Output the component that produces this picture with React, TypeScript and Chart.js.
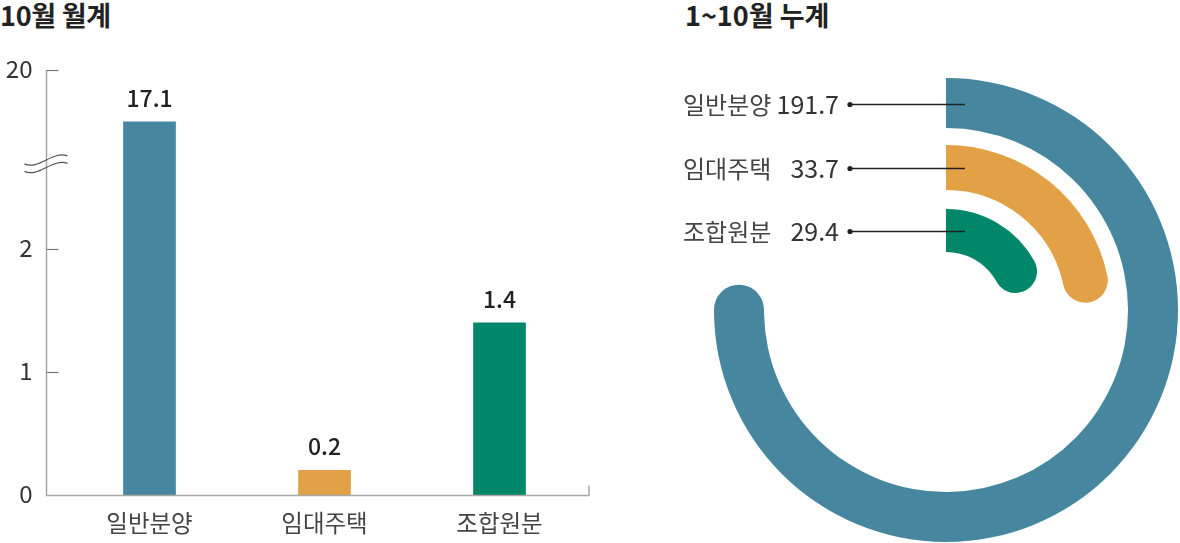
import React, { useEffect, useRef } from "react";
import { Chart, registerables } from "chart.js";

Chart.register(...registerables);

// ---------- data ----------
const leftTitle = "10월 월계";
const rightTitle = "1~10월 누계";
const monthlyCategories = ["일반분양", "임대주택", "조합원분"];
const monthlyValues = [17.1, 0.2, 1.4];
const yTickValues = [0, 1, 2, 20];
const cumulativeCategories = ["일반분양", "임대주택", "조합원분"];
const cumulativeValues = [191.7, 33.7, 29.4];
const seriesColors = ["#46879f", "#e3a147", "#008769"];

// ---------- broken axis mapping ----------
const BREAK_AT = 2;
const AXIS_TOP_VALUE = 20;
const AXIS_TOP_POS = 3.455;
const UPPER_SLOPE = 0.1455;
const BREAK_MARK_POS = 2.72;
const toAxis = (v: number) =>
  v <= BREAK_AT ? v : AXIS_TOP_POS - (AXIS_TOP_VALUE - v) * UPPER_SLOPE;

const FONT = '"Noto Sans CJK KR", "Noto Sans", sans-serif';

// ring styling (outer to inner)
const ringWeights = [50, 17, 45, 19, 43];
const arcSweepDeg = [277, 87, 76.5];

const leftPlugin = {
  id: "leftDecor",
  afterDraw(chart: any) {
    const { ctx, chartArea } = chart;
    const x = chart.scales.x;
    const y = chart.scales.y;
    const axisX = chartArea.left - 15.5;
    const zeroY = Math.round(y.getPixelForValue(0)) + 0.5;
    const topY = y.getPixelForValue(AXIS_TOP_POS);
    ctx.save();
    ctx.strokeStyle = "#a8a8a8";
    ctx.lineWidth = 1.5;
    ctx.beginPath();
    ctx.moveTo(axisX, topY);
    ctx.lineTo(axisX, zeroY);
    ctx.lineTo(chartArea.right + 2, zeroY);
    ctx.lineTo(chartArea.right + 2, zeroY - 10);
    ctx.stroke();
    ctx.lineWidth = 1.2;
    ctx.strokeStyle = "#777";
    yTickValues.forEach((v) => {
      if (v === 0) return;
      const py = Math.round(y.getPixelForValue(toAxis(v))) + 0.5;
      ctx.beginPath();
      ctx.moveTo(axisX, py);
      ctx.lineTo(axisX + 12, py);
      ctx.stroke();
    });
    // tick labels
    ctx.fillStyle = "#333";
    ctx.font = `24px ${FONT}`;
    ctx.textAlign = "right";
    ctx.textBaseline = "middle";
    yTickValues.forEach((v) => {
      const py = y.getPixelForValue(toAxis(v));
      ctx.fillText(String(v), axisX - 14, py - 1);
    });
    // break mark
    const cy = y.getPixelForValue(BREAK_MARK_POS);
    ctx.strokeStyle = "#555";
    ctx.lineWidth = 1.2;
    [0, 7.5].forEach((dy) => {
      ctx.beginPath();
      ctx.moveTo(axisX - 22, cy + 3.5 + dy);
      ctx.bezierCurveTo(axisX - 8, cy + 10 + dy, axisX + 6, cy - 10 + dy, axisX + 21, cy - 4.5 + dy);
      ctx.stroke();
    });
    // category labels
    ctx.fillStyle = "#444";
    ctx.textAlign = "center";
    ctx.font = `23.5px ${FONT}`;
    monthlyCategories.forEach((c, i) => {
      ctx.fillText(c, x.getPixelForValue(i), zeroY + 28);
    });
    // value labels
    ctx.fillStyle = "#222";
    ctx.font = `500 23px ${FONT}`;
    const meta = chart.getDatasetMeta(0);
    meta.data.forEach((bar: any, i: number) => {
      ctx.fillText(monthlyValues[i].toFixed(1), bar.x, bar.y - 24);
    });
    ctx.restore();
  },
};

const rightPlugin = {
  id: "rightDecor",
  afterDraw(chart: any) {
    const { ctx } = chart;
    ctx.save();
    cumulativeValues.forEach((v, i) => {
      const meta = chart.getDatasetMeta(i * 2);
      const arc: any = meta.data[0];
      const midR = (arc.innerRadius + arc.outerRadius) / 2;
      const ly = Math.round(arc.y - midR + (i === 0 ? 1 : 0)) + 0.5;
      const dotX = arc.x - 96;
      ctx.strokeStyle = "#222";
      ctx.lineWidth = 1.3;
      ctx.beginPath();
      ctx.moveTo(dotX, ly);
      ctx.lineTo(arc.x + 19, ly);
      ctx.stroke();
      ctx.fillStyle = "#222";
      ctx.beginPath();
      ctx.arc(dotX, ly, 2.6, 0, Math.PI * 2);
      ctx.fill();
      ctx.textBaseline = "middle";
      ctx.font = `25px ${FONT}`;
      ctx.fillStyle = "#333";
      ctx.textAlign = "right";
      ctx.fillText(v.toFixed(1), arc.x - 107, ly);
      ctx.textAlign = "left";
      ctx.font = `24px ${FONT}`;
      ctx.fillStyle = "#444";
      ctx.fillText(cumulativeCategories[i], arc.x - 263, ly);
    });
    ctx.restore();
  },
};

export default function App() {
  const leftRef = useRef<HTMLCanvasElement>(null);
  const rightRef = useRef<HTMLCanvasElement>(null);

  useEffect(() => {
    const left = new Chart(leftRef.current!, {
      type: "bar",
      data: {
        labels: monthlyCategories,
        datasets: [
          {
            data: monthlyValues.map(toAxis),
            backgroundColor: seriesColors,
            borderWidth: 0,
            barThickness: 52,
          },
        ],
      },
      options: {
        responsive: false,
        animation: false,
        layout: { padding: { left: 62, right: 13, top: 30, bottom: 48 } },
        plugins: { legend: { display: false }, tooltip: { enabled: false } },
        scales: {
          x: { display: false, offset: true },
          y: { display: false, min: 0, max: AXIS_TOP_POS },
        },
      },
      plugins: [leftPlugin],
    });

    const datasets: any[] = [];
    cumulativeValues.forEach((v, i) => {
      const w = ringWeights[i * 2];
      datasets.push({
        data: [v],
        backgroundColor: seriesColors[i],
        borderWidth: 0,
        weight: w,
        circumference: arcSweepDeg[i],
        borderRadius: { outerStart: 0, innerStart: 0, outerEnd: w / 2, innerEnd: w / 2 },
      });
      if (i < cumulativeValues.length - 1) {
        datasets.push({
          data: [1],
          backgroundColor: "rgba(0,0,0,0)",
          borderWidth: 0,
          weight: ringWeights[i * 2 + 1],
          circumference: 360,
        });
      }
    });

    const right = new Chart(rightRef.current!, {
      type: "doughnut",
      data: { labels: ["v"], datasets },
      options: {
        responsive: false,
        animation: false,
        radius: 232,
        cutout: "25%",
        layout: { padding: { left: 72, right: 0, top: 37, bottom: 0 } },
        plugins: { legend: { display: false }, tooltip: { enabled: false } },
      } as any,
      plugins: [rightPlugin],
    });

    return () => {
      left.destroy();
      right.destroy();
    };
  }, []);

  const titleStyle: React.CSSProperties = {
    position: "absolute",
    top: -2,
    fontFamily: FONT,
    fontWeight: 700,
    fontSize: 27,
    lineHeight: "34px",
    color: "#222",
    whiteSpace: "nowrap",
    letterSpacing: "0px",
  };

  return (
    <div
      style={{
        position: "absolute",
        left: 0,
        top: 0,
        width: 1180,
        height: 543,
        overflow: "hidden",
        background: "#fff",
      }}
    >
      <div style={{ ...titleStyle, left: 0, letterSpacing: "-0.3px" }}>{leftTitle}</div>
      <div style={{ ...titleStyle, left: 685 }}>{rightTitle}</div>
      <canvas
        ref={leftRef}
        width={600}
        height={503}
        style={{ position: "absolute", left: 0, top: 40, width: 600, height: 503 }}
      />
      <canvas
        ref={rightRef}
        width={540}
        height={503}
        style={{ position: "absolute", left: 640, top: 40, width: 540, height: 503 }}
      />
    </div>
  );
}
